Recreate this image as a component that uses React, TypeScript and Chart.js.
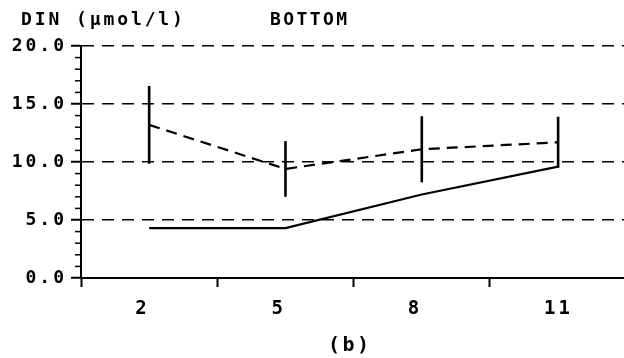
import React, { useEffect, useRef } from 'react';
import { Chart, registerables } from 'chart.js';

Chart.register(...registerables);

// ---- data ----
const DAYS = [2, 5, 8, 11];
const X_LABELS = ['2', '5', '8', '11'];
const X_TICK_MARKS = [0.5, 3.5, 6.5, 9.5];
const SOLID_VALUES = [4.3, 4.3, 7.2, 9.6];
const DASHED_VALUES = [13.2, 9.4, 11.1, 11.7];
const DASHED_ERRORS = [3.35, 2.4, 2.85, 2.2];
const Y_TICKS = [0, 5, 10, 15, 20];
const Y_MINOR_TICKS = [1, 2, 3, 4, 6, 7, 8, 9, 11, 12, 13, 14, 16, 17, 18, 19];
const Y_TITLE = 'DIN (µmol/l)';
const PANEL_TITLE = 'BOTTOM';
const PANEL_LABEL = '(b)';

const FONT = '"DejaVu Sans Mono", "Liberation Mono", monospace';
const SPACING = '3px';
const WEIGHT = 'bold';

const spacingPlugin = {
  id: 'spacing',
  beforeLayout(chart: any) {
    chart.ctx.letterSpacing = SPACING;
  },
  beforeDraw(chart: any) {
    const ctx = chart.ctx;
    ctx.save();
    ctx.fillStyle = '#fff';
    ctx.fillRect(0, 0, chart.width, chart.height);
    ctx.restore();
    ctx.letterSpacing = SPACING;
  },
};

const errorBarPlugin = {
  id: 'errorBars',
  afterDatasetsDraw(chart: any) {
    const ctx = chart.ctx;
    const meta = chart.getDatasetMeta(1);
    const yScale = chart.scales.y;
    ctx.save();
    ctx.strokeStyle = '#000';
    ctx.lineWidth = 2.6;
    meta.data.forEach((pt: any, i: number) => {
      const v = DASHED_VALUES[i];
      const e = DASHED_ERRORS[i];
      ctx.beginPath();
      ctx.moveTo(pt.x, yScale.getPixelForValue(v + e));
      ctx.lineTo(pt.x, yScale.getPixelForValue(v - e));
      ctx.stroke();
    });
    ctx.restore();
  },
};

const decorPlugin = {
  id: 'decor',
  afterDraw(chart: any) {
    const ctx = chart.ctx;
    const yScale = chart.scales.y;
    const left = chart.chartArea.left;
    ctx.save();
    ctx.strokeStyle = '#000';
    ctx.lineWidth = 1.5;
    Y_MINOR_TICKS.forEach((v) => {
      const y = yScale.getPixelForValue(v);
      ctx.beginPath();
      ctx.moveTo(left - 6, y);
      ctx.lineTo(left, y);
      ctx.stroke();
    });
    ctx.fillStyle = '#000';
    ctx.textAlign = 'left';
    ctx.textBaseline = 'alphabetic';
    ctx.font = `${WEIGHT} 18px ${FONT}`;
    ctx.letterSpacing = '2.9px';
    ctx.fillText(Y_TITLE, 21, 25);
    ctx.letterSpacing = '2.4px';
    ctx.fillText(PANEL_TITLE, 270, 25);
    ctx.font = `${WEIGHT} 20px ${FONT}`;
    ctx.letterSpacing = '2.4px';
    ctx.fillText(PANEL_LABEL, 328, 351);
    ctx.restore();
  },
};

export default function App() {
  const ref = useRef<HTMLCanvasElement | null>(null);

  useEffect(() => {
    if (!ref.current) return;
    const chart = new Chart(ref.current, {
      type: 'line',
      data: {
        datasets: [
          {
            label: 'solid',
            data: DAYS.map((d, i) => ({ x: d, y: SOLID_VALUES[i] })),
            borderColor: '#000',
            borderWidth: 2.2,
            pointRadius: 0,
            tension: 0,
            fill: false,
          },
          {
            label: 'dashed',
            data: DAYS.map((d, i) => ({ x: d, y: DASHED_VALUES[i] })),
            borderColor: '#000',
            borderWidth: 2.2,
            borderDash: [11, 7],
            pointRadius: 0,
            tension: 0,
            fill: false,
          },
        ],
      },
      options: {
        animation: false,
        responsive: false,
        devicePixelRatio: 1,
        layout: { padding: { top: 46, left: 0, right: 0, bottom: 0 } },
        plugins: {
          legend: { display: false },
          tooltip: { enabled: false },
          title: { display: false },
        },
        scales: {
          x: {
            type: 'linear',
            min: 0.5,
            max: 12.45,
            afterBuildTicks: (s: any) => {
              s.ticks = [...X_TICK_MARKS, ...DAYS]
                .sort((a, b) => a - b)
                .map((v) => ({ value: v }));
            },
            afterFit: (s: any) => {
              s.height = 80;
            },
            ticks: {
              autoSkip: false,
              maxRotation: 0,
              align: 'start',
              labelOffset: -14,
              padding: 11,
              color: '#000',
              font: { family: FONT, size: 19, weight: WEIGHT },
              callback: (v: any) => {
                const idx = DAYS.indexOf(Number(v));
                return idx >= 0 ? X_LABELS[idx] : '';
              },
            },
            grid: {
              drawOnChartArea: false,
              drawTicks: true,
              tickLength: 9,
              tickWidth: 2,
              tickColor: (c: any) =>
                c.tick && DAYS.includes(c.tick.value) ? 'rgba(0,0,0,0)' : '#000',
            },
            border: { display: true, color: '#000', width: 2 },
          },
          y: {
            type: 'linear',
            min: 0,
            max: 20,
            afterBuildTicks: (s: any) => {
              s.ticks = Y_TICKS.map((v) => ({ value: v }));
            },
            afterFit: (s: any) => {
              s.width = 81;
            },
            ticks: {
              padding: 4,
              color: '#000',
              font: { family: FONT, size: 18, weight: WEIGHT },
              callback: (v: any) => Number(v).toFixed(1),
            },
            grid: {
              drawOnChartArea: true,
              drawTicks: true,
              tickLength: 10,
              tickWidth: 2,
              tickColor: '#000',
              lineWidth: 1.5,
              color: (c: any) => (c.tick && c.tick.value === 0 ? 'rgba(0,0,0,0)' : '#000'),
            },
            border: { display: true, color: '#000', width: 2, dash: [12, 8] },
          },
        },
      },
      plugins: [spacingPlugin, errorBarPlugin, decorPlugin],
    } as any);
    return () => chart.destroy();
  }, []);

  return (
    <div style={{ position: 'absolute', left: 0, top: 0, width: 624, height: 358 }}>
      <canvas ref={ref} width={624} height={358} />
    </div>
  );
}
